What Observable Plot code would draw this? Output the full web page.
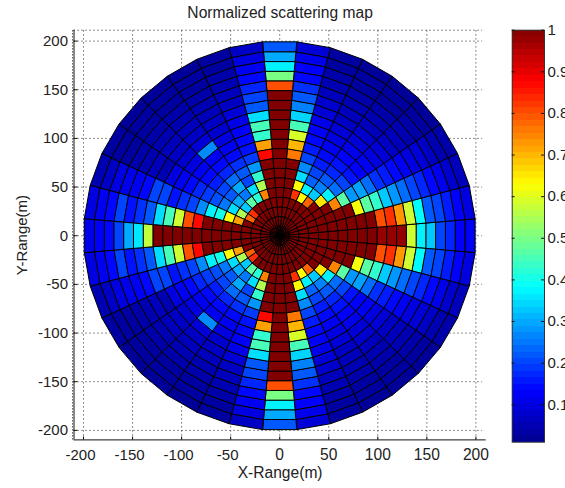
<!DOCTYPE html>
<html>
<head>
<meta charset="utf-8">
<style>
html,body{margin:0;padding:0;background:#fff;overflow:hidden;}
#wrap{position:relative;width:565px;height:488px;overflow:hidden;}
#wrap>svg{position:absolute;left:0;top:0;}
</style>
<script src="https://cdn.jsdelivr.net/npm/d3@7"></script>
<script src="https://cdn.jsdelivr.net/npm/@observablehq/plot@0.6"></script>
</head>
<body>
<div id="wrap"></div>
<script>
// Ring edges every 10 m; sectors 10 degrees wide, centred on the listed angle.
const ringStep = 10;
const sectorWidth = 10;
const sector0   = [1,1,1,1,1,1,1,1,1,1,.98,.98,.98,.58,.37,.33,.2,.17,.13,.12];
const sector10  = [1,1,1,1,1,1,1,1,1,1,.8,.83,.73,.58,.38,.22,.2,.16,.13,.1];
const sector20  = [1,1,1,1,1,1,1,1,.62,.47,.43,.33,.28,.24,.2,.17,.14,.11,.08,.06];
const sector30  = [1,1,1,1,1,1,.75,.47,.28,.29,.24,.18,.16,.14,.12,.1,.09,.07,.05,.04];
const sector40  = [1,1,1,1,1,.65,.37,.24,.2,.15,.13,.12,.1,.09,.07,.06,.05,.04,.03,.02];
const sector50  = [1,1,1,1,.78,.33,.26,.22,.17,.15,.13,.11,.09,.08,.06,.05,.04,.03,.03,.02];
const sector60  = [1,1,1,1,.63,.37,.23,.2,.16,.14,.12,.1,.09,.07,.06,.05,.04,.03,.03,.02];
const sector70  = [1,1,1,1,.83,.63,.35,.27,.2,.16,.14,.13,.11,.09,.08,.06,.05,.04,.03,.03];
const sector80  = [1,1,1,1,1,1,1,1,.76,.7,.59,.45,.34,.26,.22,.18,.14,.13,.11,.09];
const sector90  = [1,1,1,1,1,1,1,1,1,1,1,1,1,1,1,.8,.5,.37,.3,.22];
const sector100 = [1,1,1,1,1,1,1,1,.87,.72,.43,.45,.35,.22,.2,.17,.14,.12,.1,.07];
const sector110 = [1,1,1,1,.75,.55,.43,.28,.19,.15,.14,.13,.11,.09,.07,.06,.05,.04,.03,.03];
const sector120 = [1,1,1,1,.42,.35,.2,.22,.18,.14,.12,.1,.08,.07,.06,.05,.04,.03,.03,.02];
const sector130 = [1,1,1,1,.47,.25,.3,.24,.17,.14,.12,.27,.09,.07,.06,.05,.04,.03,.03,.02];
const sector140 = [1,1,1,.83,.33,.3,.22,.2,.16,.14,.12,.1,.08,.07,.06,.05,.04,.03,.03,.02];
const sector150 = [1,1,1,.78,.55,.35,.25,.21,.19,.17,.14,.12,.1,.05,.06,.05,.04,.03,.03,.03];
const sector160 = [1,1,1,1,.72,.63,.4,.37,.27,.2,.18,.15,.2,.2,.14,.12,.11,.1,.07,.05];
const sector170 = [1,1,1,1,1,1,1,1,.87,.8,.58,.45,.35,.22,.18,.15,.2,.14,.12,.1];
const sector180 = [1,1,1,1,1,1,1,1,1,1,1,1,1,.57,.36,.3,.2,.14,.13,.11];

const upperSectors = [
  [0,sector0],[10,sector10],[20,sector20],[30,sector30],[40,sector40],[50,sector50],
  [60,sector60],[70,sector70],[80,sector80],[90,sector90],[100,sector100],[110,sector110],
  [120,sector120],[130,sector130],[140,sector140],[150,sector150],[160,sector160],
  [170,sector170],[180,sector180]
];
// The picture is mirrored across the X axis.
const sectors = upperSectors.flatMap(([a,v]) => a === 0 || a === 180 ? [[a,v]] : [[a,v],[-a,v]]);

const xTicksNeg = [-200,-150,-100,-50];
const xTicksPos = [0,50,100,150,200];
const yTicks = [-200,-150,-100,-50,0,50,100,150,200];
const barTicks = [.1,.2,.3,.4,.5,.6,.7,.8,.9,1];
const jetStops = ["#00008f","#0000ff","#00ffff","#ffff00","#ff0000","#800000"];
const jetAt = [0,.125,.375,.625,.875,1];

const jet = t => {
  t = Math.max(0, Math.min(1, t));
  let i = 0;
  while (i < jetAt.length - 2 && t > jetAt[i+1]) i++;
  return d3.interpolateRgb(jetStops[i], jetStops[i+1])((t - jetAt[i]) / (jetAt[i+1] - jetAt[i]));
};
const colorScale = {type:"linear", domain:[.01,1], interpolate:() => jet};

// Each cell is a four-cornered polygon in data coordinates.
const corners = [];
let id = 0;
for (const [angle, values] of sectors) {
  values.forEach((v, ring) => {
    const r0 = ring * ringStep, r1 = (ring + 1) * ringStep;
    const a0 = (angle - sectorWidth/2) * Math.PI/180, a1 = (angle + sectorWidth/2) * Math.PI/180;
    for (const [r,a] of [[r0,a0],[r1,a0],[r1,a1],[r0,a1]]) {
      corners.push({id, v, x:r*Math.cos(a), y:r*Math.sin(a)});
    }
    id++;
  });
}

const xMin=-209.7, xMax=210.5, yMin=-209.8, yMax=211.2, gridEnd=206.8;
const ink="#222", font="Liberation Sans, Arial, sans-serif";
const dots={stroke:"#222", strokeWidth:1, strokeDasharray:"1,3"};

const main = Plot.plot({
  width:565, height:488,
  marginLeft:73.5, marginRight:79.3, marginTop:29.7, marginBottom:48.6,
  style:{fontFamily:font, fontSize:"15px", color:ink, background:"transparent"},
  x:{domain:[xMin,xMax]},
  y:{domain:[yMin,yMax]},
  color:colorScale,
  marks:[
    Plot.ruleY([...yTicks, yMax], {x1:xMin, x2:gridEnd, ...dots}),
    Plot.ruleX([...xTicksNeg, ...xTicksPos], {y1:yMin, y2:yMax, ...dots}),
    Plot.ruleX([xMin], {y1:yMin, y2:yMax, dx:-1.5, stroke:"#111", strokeDasharray:"1,2"}),
    Plot.line(corners, {x:"x", y:"y", z:"id", fill:"v", stroke:"#000", strokeWidth:1, curve:"linear-closed", strokeLinejoin:"miter"}),
    Plot.ruleX([xMin], {y1:yMin, y2:yMax, stroke:"#111"}),
    Plot.ruleY([yMin], {x1:xMin, x2:xMax, stroke:"#111"}),
    Plot.ruleX([...xTicksNeg, ...xTicksPos], {y1:yMin, y2:yMin+3, stroke:"#111"}),
    Plot.ruleY(yTicks, {x1:xMin, x2:xMin+4, stroke:"#111"}),
    Plot.axisX(xTicksNeg, {tickSize:0, tickPadding:9, dx:-3, tickFormat:d=>String(d), label:null, fontSize:15}),
    Plot.axisX(xTicksPos, {tickSize:0, tickPadding:9, tickFormat:d=>String(d), label:"X-Range(m)", labelArrow:"none", labelAnchor:"center", labelOffset:38, fontSize:15.6}),
    Plot.axisY(yTicks, {tickSize:0, tickPadding:6, tickFormat:d=>String(d), label:"Y-Range(m)", labelArrow:"none", labelAnchor:"center", labelOffset:58, fontSize:15}),
    Plot.text(["Normalized scattering map"], {frameAnchor:"top", dy:-23, fontSize:15.6, fill:ink})
  ]
});
main.setAttribute("id","main");

const levels = d3.range(64).map(i => ({y1:.01 + i*.99/64, y2:.01 + (i+1)*.99/64}));
const bar = Plot.plot({
  width:565, height:488,
  marginLeft:511.7, marginRight:21, marginTop:29.7, marginBottom:46.3,
  style:{fontFamily:font, fontSize:"15px", color:ink, background:"transparent"},
  x:{domain:[0,1], axis:null},
  y:{domain:[.01,1]},
  color:colorScale,
  marks:[
    Plot.rect(levels, {x1:0, x2:1, y1:"y1", y2:"y2", fill:d => (d.y1+d.y2)/2, shapeRendering:"crispEdges"}),
    Plot.frame({stroke:"#333"}),
    Plot.ruleY(barTicks, {x1:0, x2:.09, stroke:"#111"}),
    Plot.ruleY(barTicks, {x1:.91, x2:1, stroke:"#111"}),
    Plot.axisY(barTicks, {anchor:"right", tickSize:0, tickPadding:3, tickFormat:d=>String(d), label:null, fontSize:15})
  ]
});
bar.setAttribute("id","bar");

document.getElementById("wrap").append(main, bar);
</script>
</body>
</html>
